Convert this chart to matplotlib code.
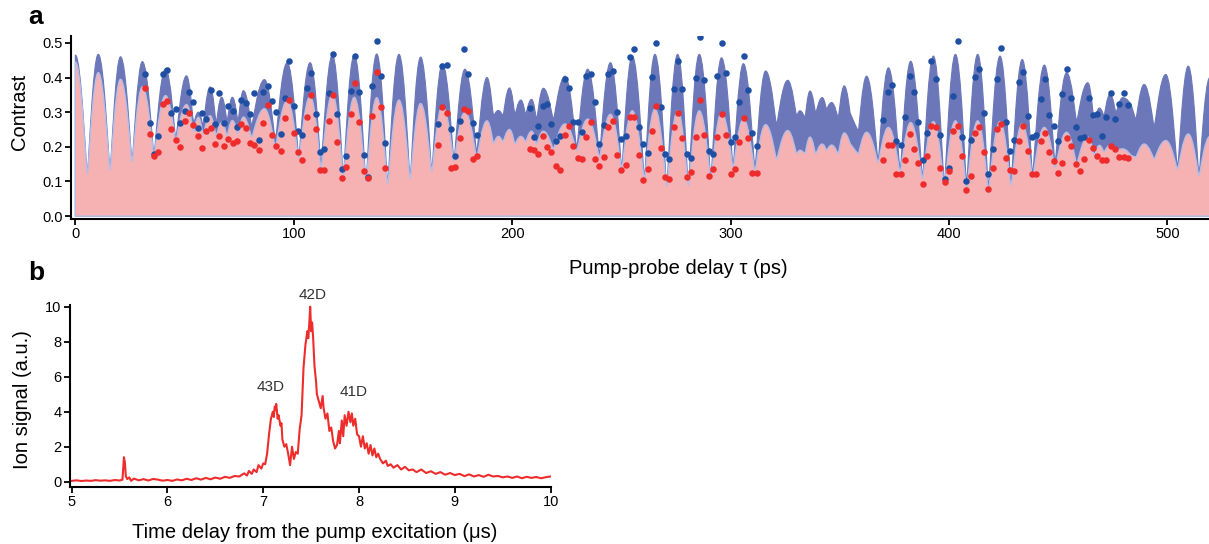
import numpy as np
import matplotlib
matplotlib.use("Agg")
import matplotlib.pyplot as plt
from matplotlib.path import Path
from matplotlib.patches import PathPatch

plt.rcParams['font.family'] = ['Liberation Sans', 'DejaVu Sans']

# ---- panel a: envelope curves (extrema) ----
env_t = [0.0, 5.5, 10.5, 15.9, 20.7, 26.0, 30.7, 36.0, 41.3, 46.0,
         50.9, 54.2, 56.3, 58.5, 61.7, 64.5, 67.0, 69.5, 71.9, 74.5,
         77.0, 80.7, 86.6, 91.6, 97.0, 102.3, 107.5, 112.5, 117.7, 122.7,
         127.7, 133.1, 138.0, 143.0, 148.2, 153.3, 158.1, 163.2, 168.1, 173.4,
         178.4, 183.8, 188.5, 191.5, 193.7, 195.8, 198.8, 201.3, 204.0, 206.2,
         208.9, 211.2, 214.3, 218.9, 224.2, 229.6, 234.6, 240.0, 245.0, 250.2,
         255.0, 260.6, 265.4, 270.8, 275.8, 280.7, 285.7, 291.0, 295.9, 301.2,
         305.9, 311.2, 316.1, 321.1, 326.2, 330.3, 331.8, 334.1, 336.4, 339.0,
         342.0, 344.0, 346.3, 349.3, 352.1, 354.7, 358.5, 362.3, 367.6, 372.3,
         377.7, 382.5, 387.9, 392.9, 397.9, 403.0, 408.1, 413.2, 418.1, 423.4,
         428.4, 433.6, 438.3, 443.7, 448.6, 453.9, 458.5, 463.6, 466.6, 468.9,
         471.0, 473.8, 476.5, 479.6, 483.4, 485.6, 489.4, 494.0, 499.3, 504.7,
         509.6, 514.5, 519.5]

upper_env = [0.465, 0.128, 0.467, 0.138, 0.460, 0.162, 0.446, 0.181, 0.425, 0.226,
             0.405, 0.268, 0.300, 0.262, 0.373, 0.270, 0.343, 0.275, 0.343, 0.275,
             0.362, 0.262, 0.394, 0.220, 0.443, 0.175, 0.443, 0.150, 0.465, 0.122,
             0.465, 0.105, 0.468, 0.098, 0.467, 0.113, 0.459, 0.134, 0.440, 0.165,
             0.424, 0.185, 0.400, 0.290, 0.305, 0.290, 0.370, 0.294, 0.335, 0.294,
             0.337, 0.280, 0.369, 0.280, 0.404, 0.199, 0.424, 0.180, 0.443, 0.141,
             0.462, 0.113, 0.467, 0.091, 0.467, 0.091, 0.467, 0.113, 0.457, 0.146,
             0.440, 0.141, 0.419, 0.266, 0.392, 0.290, 0.304, 0.285, 0.361, 0.299,
             0.342, 0.309, 0.328, 0.285, 0.376, 0.299, 0.247, 0.404, 0.161, 0.428,
             0.132, 0.447, 0.113, 0.462, 0.094, 0.467, 0.098, 0.467, 0.084, 0.462,
             0.094, 0.452, 0.122, 0.436, 0.156, 0.414, 0.275, 0.385, 0.271, 0.312,
             0.290, 0.352, 0.299, 0.342, 0.323, 0.280, 0.380, 0.260, 0.409, 0.141,
             0.433, 0.122, 0.400]

pink_env = [0.445, 0.122, 0.414, 0.133, 0.395, 0.157, 0.373, 0.176, 0.348, 0.219,
            0.322, 0.243, 0.285, 0.235, 0.290, 0.232, 0.270, 0.232, 0.276, 0.238,
            0.286, 0.228, 0.310, 0.200, 0.333, 0.167, 0.345, 0.140, 0.352, 0.117,
            0.343, 0.100, 0.342, 0.093, 0.335, 0.108, 0.325, 0.129, 0.318, 0.160,
            0.300, 0.170, 0.275, 0.210, 0.230, 0.215, 0.250, 0.208, 0.230, 0.215,
            0.245, 0.208, 0.245, 0.194, 0.266, 0.189, 0.280, 0.170, 0.294, 0.137,
            0.304, 0.108, 0.309, 0.088, 0.304, 0.088, 0.304, 0.108, 0.299, 0.141,
            0.280, 0.132, 0.264, 0.165, 0.247, 0.180, 0.190, 0.180, 0.228, 0.180,
            0.208, 0.190, 0.205, 0.180, 0.240, 0.210, 0.180, 0.242, 0.155, 0.256,
            0.127, 0.270, 0.108, 0.273, 0.090, 0.275, 0.084, 0.275, 0.075, 0.273,
            0.089, 0.266, 0.113, 0.256, 0.141, 0.242, 0.151, 0.228, 0.175, 0.204,
            0.185, 0.204, 0.190, 0.194, 0.175, 0.170, 0.208, 0.165, 0.218, 0.136,
            0.237, 0.117, 0.230]

# ---- panel a: measured points, four delay windows sampled every 2 ps ----
win_start = [32, 166, 208, 370]

blue_pts = [
    [0.409, 0.268, 0.180, 0.232, 0.409, 0.421, 0.299, 0.309, 0.269, 0.304,
     0.359, 0.328, 0.253, 0.297, 0.279, 0.363, 0.266, 0.354, 0.268, 0.318,
     0.304, 0.256, 0.335, 0.327, 0.296, 0.354, 0.220, 0.359, 0.376, 0.331,
     0.300, 0.237, 0.342, 0.449, 0.317, 0.245, 0.235, 0.369, 0.414, 0.296,
     0.184, 0.194, 0.354, 0.467, 0.294, 0.136, 0.172, 0.361, 0.461, 0.359,
     0.177, 0.113, 0.376, 0.506, 0.404, 0.212],
    [0.267, 0.434, 0.436, 0.250, 0.173, 0.275, 0.483, 0.409, 0.270, 0.235],
    [0.313, 0.229, 0.261, 0.317, 0.323, 0.266, 0.217, 0.231, 0.395, 0.371,
     0.272, 0.271, 0.244, 0.404, 0.409, 0.328, 0.207, 0.264, 0.409, 0.419,
     0.301, 0.223, 0.232, 0.459, 0.483, 0.257, 0.208, 0.183, 0.402, 0.500,
     0.314, 0.178, 0.164, 0.366, 0.447, 0.366, 0.180, 0.169, 0.400, 0.518,
     0.392, 0.189, 0.179, 0.404, 0.500, 0.414, 0.215, 0.227, 0.328, 0.462,
     0.364, 0.240, 0.201],
    [0.277, 0.359, 0.378, 0.218, 0.206, 0.287, 0.404, 0.359, 0.273, 0.163,
     0.239, 0.449, 0.395, 0.235, 0.106, 0.140, 0.346, 0.505, 0.228, 0.101,
     0.220, 0.402, 0.425, 0.298, 0.122, 0.194, 0.396, 0.486, 0.272, 0.189,
     0.220, 0.386, 0.417, 0.290, 0.228, 0.234, 0.338, 0.397, 0.292, 0.261,
     0.216, 0.353, 0.424, 0.340, 0.258, 0.226, 0.229, 0.340, 0.292, 0.294,
     0.232, 0.285, 0.356, 0.280, 0.324, 0.356, 0.320],
]

red_pts = [
    [0.371, 0.237, 0.172, 0.185, 0.323, 0.333, 0.250, 0.220, 0.199, 0.275,
     0.298, 0.263, 0.231, 0.196, 0.245, 0.253, 0.208, 0.231, 0.202, 0.222,
     0.212, 0.218, 0.266, 0.254, 0.212, 0.206, 0.190, 0.270, 0.322, 0.235,
     0.201, 0.189, 0.283, 0.335, 0.239, 0.184, 0.163, 0.287, 0.349, 0.250,
     0.134, 0.134, 0.275, 0.349, 0.215, 0.111, 0.141, 0.294, 0.384, 0.273,
     0.131, 0.110, 0.290, 0.416, 0.316, 0.139],
    [0.206, 0.315, 0.299, 0.139, 0.143, 0.225, 0.309, 0.304, 0.166, 0.173],
    [0.193, 0.191, 0.178, 0.231, 0.199, 0.185, 0.144, 0.132, 0.235, 0.261,
     0.202, 0.168, 0.164, 0.229, 0.272, 0.165, 0.145, 0.171, 0.256, 0.275,
     0.177, 0.132, 0.147, 0.287, 0.285, 0.175, 0.105, 0.136, 0.247, 0.318,
     0.197, 0.113, 0.108, 0.256, 0.298, 0.226, 0.113, 0.126, 0.229, 0.336,
     0.235, 0.116, 0.137, 0.228, 0.294, 0.233, 0.120, 0.137, 0.213, 0.282,
     0.225, 0.124, 0.124],
    [0.163, 0.204, 0.204, 0.120, 0.120, 0.163, 0.237, 0.194, 0.154, 0.092,
     0.172, 0.260, 0.258, 0.140, 0.098, 0.130, 0.247, 0.261, 0.172, 0.076,
     0.117, 0.240, 0.257, 0.185, 0.077, 0.138, 0.250, 0.266, 0.169, 0.132,
     0.130, 0.217, 0.261, 0.189, 0.120, 0.120, 0.216, 0.241, 0.185, 0.160,
     0.125, 0.154, 0.226, 0.203, 0.151, 0.131, 0.165, 0.221, 0.197, 0.174,
     0.163, 0.163, 0.201, 0.194, 0.171, 0.170, 0.168],
]

# ---- panel b: ion signal trace ----
ion_t = [5.00, 5.05, 5.10, 5.15, 5.20, 5.25, 5.30, 5.35, 5.40, 5.45,
         5.50, 5.53, 5.545, 5.555, 5.565, 5.58, 5.60, 5.62, 5.65, 5.70,
         5.75, 5.80, 5.85, 5.90, 5.95, 6.00, 6.05, 6.10, 6.15, 6.20,
         6.25, 6.30, 6.35, 6.40, 6.45, 6.50, 6.55, 6.60, 6.65, 6.70,
         6.75, 6.80, 6.83, 6.85, 6.88, 6.90, 6.93, 6.95, 6.98, 7.00,
         7.02, 7.04, 7.06, 7.08, 7.10, 7.11, 7.12, 7.13, 7.135, 7.15,
         7.16, 7.18, 7.19, 7.20, 7.22, 7.24, 7.26, 7.28, 7.30, 7.32,
         7.34, 7.36, 7.38, 7.40, 7.42, 7.44, 7.46, 7.47, 7.48, 7.49,
         7.50, 7.51, 7.52, 7.535, 7.55, 7.56, 7.58, 7.60, 7.62, 7.63,
         7.65, 7.67, 7.69, 7.71, 7.73, 7.75, 7.77, 7.79, 7.80, 7.82,
         7.835, 7.85, 7.87, 7.89, 7.91, 7.925, 7.94, 7.96, 7.98, 8.00,
         8.02, 8.04, 8.06, 8.08, 8.10, 8.12, 8.14, 8.16, 8.18, 8.20,
         8.22, 8.25, 8.28, 8.30, 8.33, 8.36, 8.40, 8.44, 8.48, 8.52,
         8.56, 8.60, 8.65, 8.70, 8.75, 8.80, 8.85, 8.90, 8.95, 9.00,
         9.05, 9.10, 9.15, 9.20, 9.25, 9.30, 9.35, 9.40, 9.45, 9.50,
         9.55, 9.60, 9.65, 9.70, 9.75, 9.80, 9.85, 9.90, 9.95, 10.00]

ion_v = [0.05, 0.08, 0.04, 0.07, 0.05, 0.09, 0.06, 0.08, 0.05, 0.10,
         0.07, 0.12, 1.40, 1.10, 0.30, 0.15, 0.25, 0.05, 0.18, 0.08,
         0.15, 0.07, 0.16, 0.12, 0.06, 0.10, 0.05, 0.13, 0.08, 0.17,
         0.10, 0.20, 0.12, 0.22, 0.14, 0.24, 0.17, 0.28, 0.22, 0.33,
         0.30, 0.48, 0.35, 0.62, 0.45, 0.70, 0.55, 0.95, 0.75, 1.05,
         1.00, 1.60, 2.70, 3.60, 4.00, 3.70, 4.30, 4.10, 4.45, 3.60,
         3.80, 3.20, 3.35, 2.40, 2.00, 2.15, 1.60, 0.95, 2.00, 1.30,
         1.70, 1.60, 3.00, 3.80, 6.50, 7.80, 8.60, 8.20, 9.00, 10.00,
         8.60, 9.10, 8.30, 6.60, 5.80, 5.00, 4.60, 4.20, 4.90, 4.20,
         3.60, 3.90, 2.90, 3.10, 2.30, 1.90, 2.10, 2.90, 2.20, 3.50,
         2.60, 3.80, 3.20, 4.00, 3.40, 3.90, 3.20, 3.60, 2.70, 2.60,
         2.00, 2.60, 1.90, 2.20, 1.60, 2.10, 1.50, 1.90, 1.40, 1.60,
         1.30, 1.05, 1.20, 0.90, 1.00, 0.80, 0.95, 0.70, 0.85, 0.65,
         0.70, 0.55, 0.70, 0.50, 0.60, 0.45, 0.55, 0.40, 0.50, 0.38,
         0.45, 0.32, 0.42, 0.30, 0.38, 0.28, 0.40, 0.30, 0.33, 0.25,
         0.30, 0.22, 0.30, 0.20, 0.28, 0.22, 0.27, 0.20, 0.26, 0.30]

peak_names = ['43D', '42D', '41D']
peak_pos = [(7.075, 5.4), (7.52, 10.65), (7.94, 5.1)]

BLUE_FILL = '#6b77b8'
PINK_FILL = '#f6b1b3'
BLUE_DOT = '#1f4fa3'
RED_DOT = '#ee2c2c'


def smooth_fill(ax, xs, ys, **kw):
    # filled area under a curve drawn through the read extrema:
    # round (flat tangent) at maxima, nearly pointed at minima
    n = len(xs)

    def kind(i):
        left = ys[i - 1] if i > 0 else ys[i + 1]
        right = ys[i + 1] if i < n - 1 else ys[i - 1]
        if ys[i] >= left and ys[i] >= right:
            return 0.5
        if ys[i] <= left and ys[i] <= right:
            return 0.12
        return 0.0

    verts = [(xs[0], 0), (xs[0], ys[0])]
    codes = [Path.MOVETO, Path.LINETO]
    for i in range(n - 1):
        d = xs[i + 1] - xs[i]
        c1 = (xs[i] + kind(i) * d, ys[i])
        c2 = (xs[i + 1] - kind(i + 1) * d, ys[i + 1])
        verts += [c1, c2, (xs[i + 1], ys[i + 1])]
        codes += [Path.CURVE4] * 3
    verts += [(xs[-1], 0), (xs[0], 0)]
    codes += [Path.LINETO, Path.CLOSEPOLY]
    ax.add_patch(PathPatch(Path(verts, codes), **kw))


def style_axes(ax):
    for side in ['top', 'right']:
        ax.spines[side].set_visible(False)
    for side in ['left', 'bottom']:
        ax.spines[side].set_linewidth(1.5)
    ax.tick_params(direction='out', length=4, width=1.3, labelsize=10.5, pad=2)


fig = plt.figure(figsize=(12.09, 5.44), dpi=100)

# panel a
axA = fig.add_axes([0.0587, 0.5974, 0.9413, 0.3364])
smooth_fill(axA, env_t, upper_env, facecolor=BLUE_FILL, edgecolor=BLUE_FILL, lw=0.8)
smooth_fill(axA, env_t, pink_env, facecolor=PINK_FILL, edgecolor='#b8bde3', lw=1.0)
for start, bvals, rvals in zip(win_start, blue_pts, red_pts):
    tt = np.arange(start, start + 2 * len(bvals), 2)
    axA.scatter(tt, bvals, s=22, color=BLUE_DOT, lw=0, zorder=3)
    axA.scatter(tt, rvals, s=22, color=RED_DOT, lw=0, zorder=3)
axA.set_xlim(-2, 519.1)
axA.set_ylim(-0.0086, 0.52)
axA.set_xticks([0, 100, 200, 300, 400, 500])
axA.set_yticks([0.0, 0.1, 0.2, 0.3, 0.4, 0.5])
axA.set_yticklabels(['0.0', '0.1', '0.2', '0.3', '0.4', '0.5'])
style_axes(axA)

fig.text(19 / 1209, 1 - 112 / 544, 'Contrast', rotation=90, ha='center', va='center', fontsize=14.5)
fig.text(678 / 1209, 1 - 268 / 544, 'Pump-probe delay \u03c4 (ps)', ha='center', va='center', fontsize=14.5)
fig.text(36 / 1209, 1 - 17 / 544, 'a', ha='center', va='center', fontsize=19, fontweight='bold')

# panel b
axB = fig.add_axes([0.0579, 0.1048, 0.3979, 0.3346])
axB.plot(ion_t, ion_v, color=RED_DOT, lw=1.5)
axB.set_xlim(4.982, 10.005)
axB.set_ylim(-0.3, 10.1)
axB.set_xticks([5, 6, 7, 8, 9, 10])
axB.set_yticks([0, 2, 4, 6, 8, 10])
style_axes(axB)
for name, (px, py) in zip(peak_names, peak_pos):
    axB.text(px, py, name, ha='center', va='center', fontsize=11, color='#333333', clip_on=False)

fig.text(22 / 1209, 1 - 400 / 544, 'Ion signal (a.u.)', rotation=90, ha='center', va='center', fontsize=14.5)
fig.text(315 / 1209, 1 - 532 / 544, 'Time delay from the pump excitation (\u03bcs)', ha='center', va='center', fontsize=14.5)
fig.text(36 / 1209, 1 - 273 / 544, 'b', ha='center', va='center', fontsize=19, fontweight='bold')

fig.savefig('out.png', dpi=100)
